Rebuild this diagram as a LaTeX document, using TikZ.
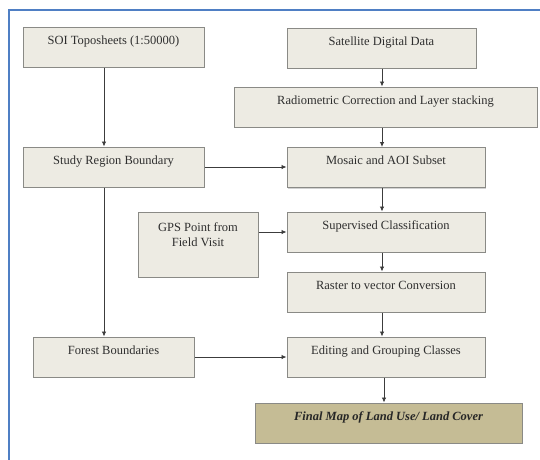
\documentclass[tikz,border=0pt]{standalone}
\usepackage{fontspec}
\setmainfont{Liberation Serif}
\usetikzlibrary{arrows.meta,shadows}
\definecolor{boxfill}{HTML}{EDEBE3}
\definecolor{boxline}{HTML}{8A8A86}
\definecolor{finalfill}{HTML}{C5BC95}
\definecolor{framecol}{HTML}{4F7FC4}
\definecolor{arrcol}{HTML}{3C3C3C}
\definecolor{txt}{HTML}{2E2E2E}
\tikzset{
  box/.style={draw=boxline, line width=1pt, fill=boxfill, inner sep=0pt,
    minimum height=40pt, text height=9pt, text depth=15pt, text=txt,
    font=\fontsize{12.5}{14}\selectfont,
    drop shadow={opacity=0.35, shadow xshift=1pt, shadow yshift=-1pt}},
  finalbox/.style={box, fill=finalfill, text=black!85,
    font=\fontsize{12.5}{14}\selectfont\bfseries\itshape},
  arr/.style={draw=arrcol, line width=0.8pt, -{Latex[length=5pt,width=4.5pt]}},
  ln/.style={draw=arrcol, line width=0.8pt}
}
\begin{document}
\begin{tikzpicture}[x=1pt,y=-1pt]
\useasboundingbox (0,0) rectangle (540,459);
\clip (0,0) rectangle (540,459);
\fill[white] (0,0) rectangle (540,459);
\draw[framecol, line width=2pt] (8.5,9.5) rectangle (570,490);

\node[box, minimum width=181pt] (soi) at (113.5,47) {SOI Toposheets (1:50000)};
\node[box, minimum width=189pt] (sat) at (381.5,48) {Satellite Digital Data};
\node[box, minimum width=303pt] (rad) at (385.5,107) {Radiometric Correction and Layer stacking};
\node[box, minimum width=181pt] (study) at (113.5,167) {Study Region Boundary};
\node[box, minimum width=198pt] (mos) at (386,167.5) {Mosaic and AOI Subset};
\node[box, minimum width=120pt, minimum height=65pt, text height=, text depth=] (gps) at (198,244.5) {};
\node[text=txt, align=center, font=\fontsize{12.5}{15}\selectfont] (gpstext) at (198,235) {GPS Point from\\Field Visit};
\node[box, minimum width=198pt] (sup) at (386,232) {Supervised Classification};
\node[box, minimum width=198pt] (ras) at (386,292) {Raster to vector Conversion};
\node[box, minimum width=161pt] (forest) at (113.5,357) {Forest Boundaries};
\node[box, minimum width=198pt] (edit) at (386,357) {Editing and Grouping Classes};
\node[finalbox, minimum width=267pt] (final) at (388.5,423) {Final Map of Land Use/ Land Cover};

\coordinate (lx) at (104,0);
\coordinate (rx) at (382,0);
\coordinate (fx) at (384,0);

\draw[arr] (soi.south -| lx) -- (study.north -| lx);
\draw[arr] (study.south -| lx) -- (forest.north -| lx);
\draw[arr] (sat.south -| rx) -- (rad.north -| rx);
\draw[arr] (rad.south -| rx) -- (mos.north -| rx);
\draw[arr] (mos.south -| rx) -- (sup.north -| rx);
\draw[arr] (sup.south -| rx) -- (ras.north -| rx);
\draw[arr] (ras.south -| rx) -- (edit.north -| rx);
\draw[arr] (edit.south -| fx) -- (final.north -| fx);
\draw[arr] (study.east) -- (study.east -| mos.west);
\draw[arr] (gps.east |- sup.west) -- (sup.west);
\draw[arr] (forest.east) -- (edit.west);
\end{tikzpicture}
\end{document}
